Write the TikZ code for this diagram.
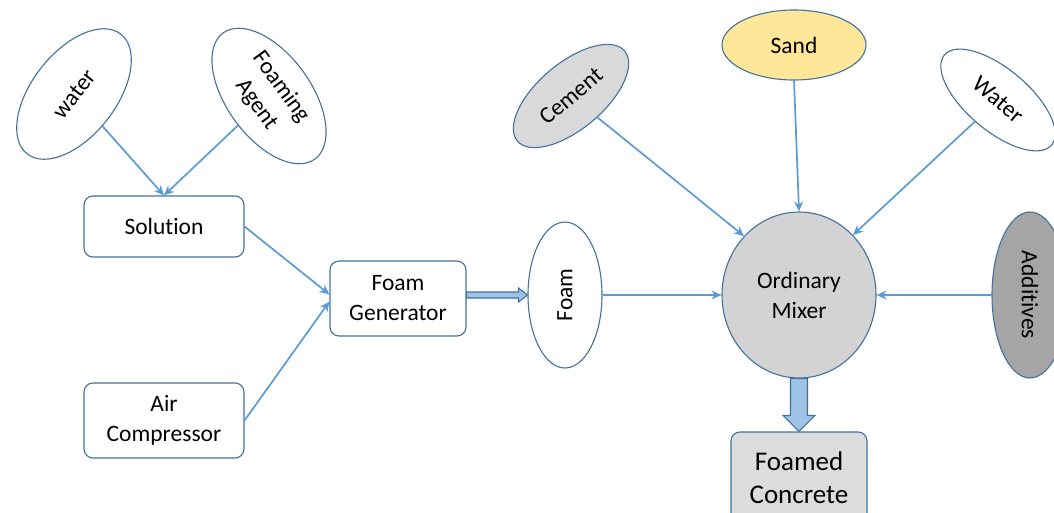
\documentclass[tikz,border=0pt]{standalone}
\usepackage{fontspec}
\setmainfont{Carlito}[Ligatures=NoCommon]
\usetikzlibrary{shapes.geometric,arrows.meta,calc}
\definecolor{edgeblue}{HTML}{41719C}
\definecolor{arrowblue}{HTML}{5B9BD5}
\definecolor{blockfill}{HTML}{9DC3E6}
\definecolor{mixgray}{HTML}{D3D3D3}
\definecolor{cemgray}{HTML}{D9D9D9}
\definecolor{addgray}{HTML}{A5A5A5}
\definecolor{sandyellow}{HTML}{FFE699}
\definecolor{fcgray}{HTML}{DCDCDC}
\begin{document}
\begin{tikzpicture}[x=1pt,y=1pt,
  txt/.style={font=\fontsize{23.5}{30}\selectfont, align=center, text=black},
  oval/.style={ellipse, draw=edgeblue, line width=1.1pt, inner sep=0pt, txt},
  boxnode/.style={rectangle, rounded corners=9pt, draw=edgeblue, line width=1.1pt, inner sep=0pt, txt},
  flow/.style={draw=arrowblue, line width=1.7pt, -{Stealth[length=10pt,width=9pt]}},
  blockarrow/.style={fill=blockfill, draw=edgeblue, line width=1.1pt, line join=miter}
]
\useasboundingbox (0,0) rectangle (1054,-512);

% left inputs
\node[oval, minimum width=152pt, minimum height=84pt, rotate=52] (wl) at (74,-94) {water};
\node[oval, minimum width=156pt, minimum height=84pt, rotate=-54] (fa) at (269,-96) {Foaming\\Agent};

\node[boxnode, minimum width=160pt, minimum height=61pt] (sol) at (164,-226.5) {Solution};
\node[boxnode, minimum width=160pt, minimum height=75pt] (air) at (164,-420.5) {Air\\Compressor};
\node[boxnode, minimum width=136pt, minimum height=75pt] (fg) at (398,-298.5) {Foam\\Generator};

\node[oval, minimum width=146pt, minimum height=74pt, rotate=90] (foam) at (565,-295) {Foam};

% mixer and its inputs
\node[oval, fill=mixgray, minimum width=154pt, minimum height=166pt] (mix) at (799,-295) {Ordinary\\Mixer};
\node[oval, fill=addgray, minimum width=166pt, minimum height=76pt, rotate=-90] (add) at (1030,-295) {Additives};
\node[oval, fill=cemgray, minimum width=140pt, minimum height=66pt, rotate=40] (cem) at (571,-96) {Cement};
\node[oval, fill=sandyellow, minimum width=144pt, minimum height=70pt] (sand) at (794,-45) {Sand};
\node[oval, minimum width=140pt, minimum height=62pt, rotate=-40] (wr) at (998,-100) {Water};

\node[boxnode, fill=fcgray, minimum width=136pt, minimum height=92pt, font=\fontsize{27}{33}\selectfont] (fc) at (799,-478) {Foamed\\Concrete};

% connectors
\draw[flow] (wl) -- (sol.north);
\draw[flow] (fa) -- (sol.north);
\draw[flow] (sol.east) -- ([yshift=4pt]fg.west);
\draw[flow] (air.east) -- ([yshift=-3pt]fg.west);
\draw[flow] (foam) -- (mix.west);
\draw[flow] (cem) -- (mix.133);
\draw[flow] (sand.south) -- (mix.north);
\draw[flow] (wr) -- (mix.48);
\draw[flow] (add) -- (mix.east);

% block arrows
\path let \p1=(fg.east), \p2=(foam.north) in
  [blockarrow] (\x1,-295+3) -- (\x2-9,-295+3) -- (\x2-9,-295+7) -- (\x2,-295) -- (\x2-9,-295-7) -- (\x2-9,-295-3) -- (\x1,-295-3) -- cycle;
\path let \p1=(mix.south), \p2=(fc.north) in
  [blockarrow] (\x1-8.5,\y1) -- (\x1+8.5,\y1) -- (\x1+8.5,\y2+16) -- (\x1+16,\y2+16) -- (\x1,\y2) -- (\x1-16,\y2+16) -- (\x1-8.5,\y2+16) -- cycle;
\end{tikzpicture}
\end{document}
